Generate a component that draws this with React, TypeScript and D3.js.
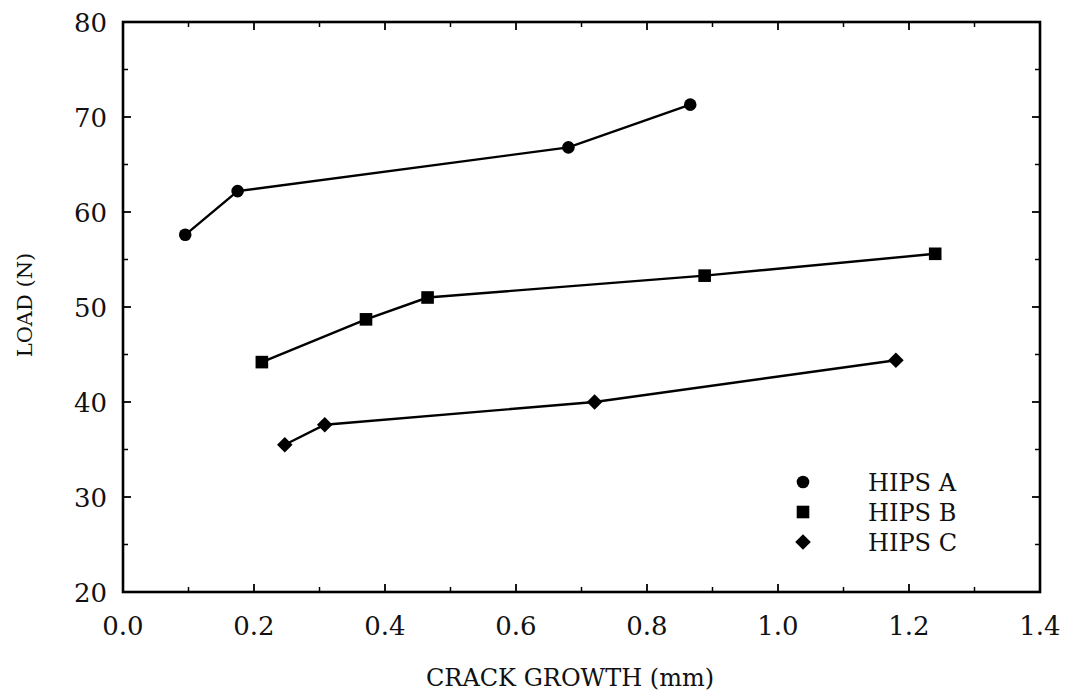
import React from "react";
import * as d3 from "d3";

const hipsA_x = [0.095, 0.175, 0.68, 0.866];
const hipsA_y = [57.6, 62.2, 66.8, 71.3];
const hipsB_x = [0.212, 0.371, 0.465, 0.888, 1.24];
const hipsB_y = [44.2, 48.7, 51.0, 53.3, 55.6];
const hipsC_x = [0.247, 0.308, 0.72, 1.18];
const hipsC_y = [35.5, 37.6, 40.0, 44.4];
const seriesNames = ["HIPS A", "HIPS B", "HIPS C"];
const xTicks = [0, 0.2, 0.4, 0.6, 0.8, 1.0, 1.2, 1.4];
const xMinor = [0.1, 0.3, 0.5, 0.7, 0.9, 1.1, 1.3];
const yTicks = [20, 30, 40, 50, 60, 70, 80];
const yMinor = [25, 35, 45, 55, 65, 75];

const W = 1068, H = 694;
const L = 123, R = 1040, T = 22, B = 592;
const FONT = "'DejaVu Serif', serif";

function Marker({ kind, x, y }: { kind: number; x: number; y: number }) {
  if (kind === 0) return <circle cx={x} cy={y} r={6.3} fill="#000" />;
  if (kind === 1) return <rect x={x - 6.3} y={y - 6.3} width={12.6} height={12.6} fill="#000" />;
  const s = 7.8;
  return <path d={`M${x},${y - s}L${x + s},${y}L${x},${y + s}L${x - s},${y}Z`} fill="#000" />;
}

export default function App() {
  const x = d3.scaleLinear().domain([0, 1.4]).range([L, R]);
  const y = d3.scaleLinear().domain([20, 80]).range([B, T]);
  const series = [
    hipsA_x.map((v, i) => [v, hipsA_y[i]] as [number, number]),
    hipsB_x.map((v, i) => [v, hipsB_y[i]] as [number, number]),
    hipsC_x.map((v, i) => [v, hipsC_y[i]] as [number, number]),
  ];
  const line = d3.line<[number, number]>().x((d) => x(d[0])).y((d) => y(d[1]));
  const maj = 8, mnr = 5;
  return (
    <svg width={W} height={H} style={{ position: "absolute", left: 0, top: 0, background: "#fff" }} fontFamily={FONT}>
      <rect x={0} y={0} width={W} height={H} fill="#fff" />
      <rect x={L} y={T} width={R - L} height={B - T} fill="none" stroke="#000" strokeWidth={2.6} />
      {xTicks.map((t) => (
        <g key={"xt" + t}>
          <line x1={x(t)} x2={x(t)} y1={B} y2={B - maj} stroke="#000" strokeWidth={1.8} />
          <line x1={x(t)} x2={x(t)} y1={T} y2={T + maj} stroke="#000" strokeWidth={1.8} />
          <text x={x(t)} y={B + 43} textAnchor="middle" fontSize={26} fill="#111">{t.toFixed(1)}</text>
        </g>
      ))}
      {xMinor.map((t) => (
        <g key={"xm" + t}>
          <line x1={x(t)} x2={x(t)} y1={B} y2={B - mnr} stroke="#000" strokeWidth={1.5} />
          <line x1={x(t)} x2={x(t)} y1={T} y2={T + mnr} stroke="#000" strokeWidth={1.5} />
        </g>
      ))}
      {yTicks.map((t) => (
        <g key={"yt" + t}>
          <line x1={L} x2={L + maj} y1={y(t)} y2={y(t)} stroke="#000" strokeWidth={1.8} />
          <line x1={R} x2={R - maj} y1={y(t)} y2={y(t)} stroke="#000" strokeWidth={1.8} />
          <text x={107} y={y(t) + 10} textAnchor="end" fontSize={26} fill="#111">{t}</text>
        </g>
      ))}
      {yMinor.map((t) => (
        <g key={"ym" + t}>
          <line x1={L} x2={L + mnr} y1={y(t)} y2={y(t)} stroke="#000" strokeWidth={1.5} />
          <line x1={R} x2={R - mnr} y1={y(t)} y2={y(t)} stroke="#000" strokeWidth={1.5} />
        </g>
      ))}
      {series.map((s, k) => (
        <g key={"s" + k}>
          <path d={line(s) || ""} fill="none" stroke="#000" strokeWidth={2.4} />
          {s.map((d, i) => (
            <Marker key={i} kind={k} x={x(d[0])} y={y(d[1])} />
          ))}
        </g>
      ))}
      {seriesNames.map((n, k) => (
        <g key={"lg" + k}>
          <Marker kind={k} x={803} y={482 + k * 30} />
          <text x={868} y={482 + k * 30 + 9} fontSize={24} fill="#111">{n}</text>
        </g>
      ))}
      <text x={570} y={686} textAnchor="middle" fontSize={24} fill="#111">CRACK GROWTH (mm)</text>
      <text transform={`translate(32,305) rotate(-90)`} textAnchor="middle" fontSize={21} fill="#111">LOAD (N)</text>
    </svg>
  );
}
